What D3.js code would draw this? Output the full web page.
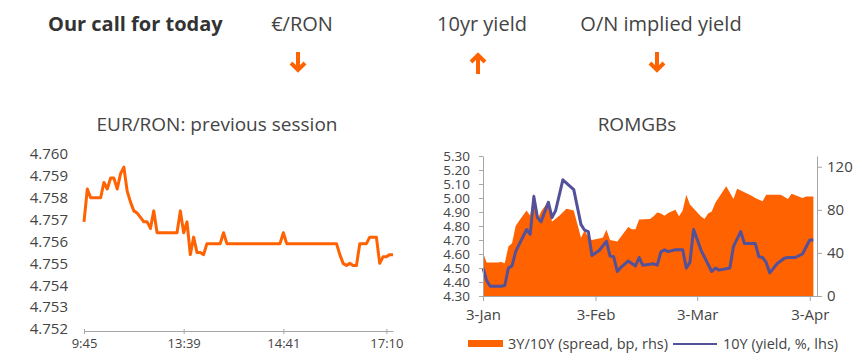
<!DOCTYPE html>
<html>
<head>
<meta charset="utf-8">
<script src="https://cdn.jsdelivr.net/npm/d3@7"></script>
<style>
  html, body { margin: 0; padding: 0; background: #fff; }
  svg { display: block; font-family: "Open Sans", sans-serif; }
</style>
</head>
<body>
<svg id="chart" width="859" height="354"></svg>
<script>
// ---- Daily call ----
const callLabels = ["€/RON", "10yr yield", "O/N implied yield"];
const callDirections = ["down", "up", "down"];

// ---- EUR/RON intraday fixings, previous session ----
const eurronValues = [
  4.7569, 4.7584, 4.7580, 4.7580, 4.7580, 4.7580, 4.7587, 4.7584, 4.7589, 4.7589,
  4.7584, 4.7591, 4.7594, 4.7583, 4.7578, 4.7574, 4.7573, 4.7571, 4.7569, 4.7569,
  4.7566, 4.7574, 4.7564, 4.7564, 4.7564, 4.7564, 4.7564, 4.7564, 4.7564, 4.7574,
  4.7564, 4.7569, 4.7554, 4.7562, 4.7555, 4.7555, 4.7554, 4.7559, 4.7559, 4.7559,
  4.7559, 4.7559, 4.7564, 4.7559, 4.7559, 4.7559, 4.7559, 4.7559, 4.7559, 4.7559,
  4.7559, 4.7559, 4.7559, 4.7559, 4.7559, 4.7559, 4.7559, 4.7559, 4.7559, 4.7559,
  4.7564, 4.7559, 4.7559, 4.7559, 4.7559, 4.7559, 4.7559, 4.7559, 4.7559, 4.7559,
  4.7559, 4.7559, 4.7559, 4.7559, 4.7559, 4.7559, 4.7559, 4.7554, 4.7550, 4.7549,
  4.7550, 4.7549, 4.7549, 4.7559, 4.7559, 4.7559, 4.7562, 4.7562, 4.7562, 4.7550,
  4.7553, 4.7553, 4.7554, 4.7554
];
const eurronTickIndex = [0, 30, 60, 91];
const eurronTickLabels = ["9:45", "13:39", "14:41", "17:10"];
const eurronYTicks = [4.752, 4.753, 4.754, 4.755, 4.756, 4.757, 4.758, 4.759, 4.760];

// ---- ROMGBs: 3Y/10Y spread (bp, rhs) ----
const spreadDates = [
  "2022-01-03","2022-01-04","2022-01-07","2022-01-08","2022-01-09","2022-01-10","2022-01-11",
  "2022-01-12","2022-01-13","2022-01-15","2022-01-16","2022-01-17","2022-01-18","2022-01-19",
  "2022-01-21","2022-01-22","2022-01-24","2022-01-26","2022-01-28","2022-01-30","2022-01-31",
  "2022-02-01","2022-02-02","2022-02-05","2022-02-06","2022-02-07","2022-02-09","2022-02-12",
  "2022-02-13","2022-02-14","2022-02-15","2022-02-18","2022-02-19","2022-02-20","2022-02-21",
  "2022-02-22","2022-02-23","2022-02-25","2022-02-26","2022-02-27","2022-02-28","2022-03-01",
  "2022-03-04","2022-03-05","2022-03-06","2022-03-07","2022-03-08","2022-03-11","2022-03-13",
  "2022-03-14","2022-03-18","2022-03-19","2022-03-21","2022-03-22","2022-03-26","2022-03-28",
  "2022-03-29","2022-04-01","2022-04-02","2022-04-04"
];
const spreadValues = [
  40, 31, 31, 31.5, 30.5, 46, 49,
  65, 70, 79.5, 74.5, 95.5, 71, 78.5,
  88, 69, 74.5, 81, 79.5, 54, 61,
  54.5, 52, 54, 61.5, 52, 50.5, 64,
  62, 62, 71, 71.5, 74, 77.5, 76.5,
  74.5, 77, 80, 74, 79.5, 94, 85,
  74, 71.5, 76.5, 78.5, 86.5, 102, 90,
  99.5, 93, 91, 88, 94, 94, 90,
  95, 91, 92.5, 92.5
];

// ---- ROMGBs: 10Y yield (%, lhs) ----
const yieldDates = [
  "2022-01-03","2022-01-04","2022-01-05","2022-01-08","2022-01-09","2022-01-10","2022-01-11",
  "2022-01-12","2022-01-13","2022-01-15","2022-01-16","2022-01-17","2022-01-18","2022-01-19",
  "2022-01-21","2022-01-22","2022-01-23","2022-01-25","2022-01-28","2022-01-30","2022-01-31",
  "2022-02-01","2022-02-02","2022-02-04","2022-02-06","2022-02-07","2022-02-08","2022-02-09",
  "2022-02-10","2022-02-12","2022-02-14","2022-02-15","2022-02-16","2022-02-19","2022-02-20",
  "2022-02-21","2022-02-22","2022-02-23","2022-02-25","2022-02-27","2022-02-28","2022-03-01",
  "2022-03-02","2022-03-03","2022-03-04","2022-03-07","2022-03-08","2022-03-09","2022-03-12",
  "2022-03-13","2022-03-15","2022-03-16","2022-03-19","2022-03-20","2022-03-21","2022-03-22",
  "2022-03-23","2022-03-25","2022-03-27","2022-03-28","2022-03-30","2022-04-01","2022-04-03",
  "2022-04-04"
];
const yieldValues = [
  4.50, 4.41, 4.37, 4.37, 4.375, 4.50, 4.515,
  4.617, 4.67, 4.775, 4.74, 5.01, 4.86, 4.83,
  4.97, 4.86, 4.91, 5.13, 5.06, 4.81, 4.77,
  4.76, 4.59, 4.625, 4.69, 4.585, 4.58, 4.475,
  4.505, 4.55, 4.515, 4.575, 4.52, 4.53, 4.52,
  4.615, 4.63, 4.617, 4.63, 4.63, 4.50, 4.54,
  4.775, 4.705, 4.63, 4.475, 4.50, 4.485, 4.50,
  4.655, 4.76, 4.675, 4.675, 4.58, 4.575, 4.54,
  4.465, 4.53, 4.57, 4.575, 4.575, 4.60, 4.70,
  4.70
];
const romgbMonthTicks = ["2022-01-03", "2022-02-03", "2022-03-03", "2022-04-03"];
const yieldTicks = [4.30, 4.40, 4.50, 4.60, 4.70, 4.80, 4.90, 5.00, 5.10, 5.20, 5.30];
const spreadTicks = [0, 40, 80, 120];
const legendLabels = ["3Y/10Y (spread, bp, rhs)", "10Y (yield, %, lhs)"];

const ORANGE = "#ff6200";
const INDIGO = "#525199";
const TEXT = "#444";
const AXIS = "#a6a6a6";

const svg = d3.select("#chart");
const parse = d3.timeParse("%Y-%m-%d");

// ---- Header: today's call ----
svg.append("text")
  .attr("x", 48).attr("y", 31)
  .attr("font-size", 20).attr("font-weight", 700).attr("fill", "#333")
  .text("Our call for today");

const callCenters = [302, 482, 661];
const head = svg.append("g").selectAll("g")
  .data(callLabels.map((l, i) => ({ label: l, dir: callDirections[i], cx: callCenters[i] })))
  .join("g");
head.append("text")
  .attr("x", d => d.cx).attr("y", 31)
  .attr("text-anchor", "middle").attr("font-size", 20).attr("fill", TEXT)
  .text(d => d.label);
head.append("path")
  .attr("transform", d => `translate(${d.cx - 4},${d.dir === "up" ? 64 : 61})`)
  .attr("d", d => d.dir === "up"
    ? "M0,10 L0,-9 M-7,-2 L0,-9 L7,-2"
    : "M0,-9 L0,9 M-7,2 L0,9 L7,2")
  .attr("fill", "none").attr("stroke", ORANGE).attr("stroke-width", 4)
  .attr("stroke-linejoin", "miter").attr("stroke-linecap", "butt");

// ---- Left panel: EUR/RON previous session ----
svg.append("text")
  .attr("x", 217).attr("y", 131).attr("text-anchor", "middle")
  .attr("font-size", 19).attr("fill", TEXT)
  .text("EUR/RON: previous session");

const xL = d3.scaleLinear().domain([0, eurronValues.length - 1]).range([84, 393]);
const yL = d3.scaleLinear().domain([4.752, 4.760]).range([329, 154]);

const axL = svg.append("g").attr("transform", "translate(71,0)")
  .call(d3.axisLeft(yL).tickValues(eurronYTicks).tickFormat(d3.format(".3f")).tickSize(0).tickPadding(3));
axL.select(".domain").remove();
axL.selectAll("text").attr("font-size", 15).attr("fill", TEXT).attr("font-family", "Open Sans");

const axLB = svg.append("g").attr("transform", "translate(0,331)")
  .call(d3.axisBottom(xL).tickValues(eurronTickIndex)
    .tickFormat((d, i) => eurronTickLabels[i]).tickSize(5).tickSizeOuter(0).tickPadding(3));
axLB.select(".domain").attr("stroke", AXIS);
axLB.selectAll(".tick line").attr("stroke", AXIS).attr("transform", "translate(0,-2)");
axLB.selectAll("text").attr("font-size", 13).attr("fill", TEXT).attr("font-family", "Open Sans");

svg.append("path")
  .datum(eurronValues)
  .attr("fill", "none").attr("stroke", ORANGE).attr("stroke-width", 3)
  .attr("stroke-linejoin", "round")
  .attr("d", d3.line().x((d, i) => xL(i)).y(d => yL(d)));

// ---- Right panel: ROMGBs ----
svg.append("text")
  .attr("x", 637).attr("y", 131).attr("text-anchor", "middle")
  .attr("font-size", 19).attr("fill", TEXT)
  .text("ROMGBs");

const xR = d3.scaleTime().domain([parse("2022-01-03"), parse("2022-04-05")]).range([483, 817]);
const yYield = d3.scaleLinear().domain([4.30, 5.30]).range([296, 156]);
const ySpread = d3.scaleLinear().domain([0, 130]).range([296, 156]);

const spread = spreadDates.map((d, i) => ({ date: parse(d), v: spreadValues[i] }));
const yld = yieldDates.map((d, i) => ({ date: parse(d), v: yieldValues[i] }));

svg.append("path")
  .datum(spread)
  .attr("fill", ORANGE)
  .attr("d", d3.area().x(d => xR(d.date)).y0(ySpread(0)).y1(d => ySpread(d.v)));

svg.append("path")
  .datum(yld)
  .attr("fill", "none").attr("stroke", INDIGO).attr("stroke-width", 3)
  .attr("stroke-linejoin", "round")
  .attr("d", d3.line().x(d => xR(d.date)).y(d => yYield(d.v)));

const axYL = svg.append("g").attr("transform", "translate(483,0)")
  .call(d3.axisLeft(yYield).tickValues(yieldTicks).tickFormat(d3.format(".2f")).tickSize(4).tickSizeOuter(0).tickPadding(9));
const axYR = svg.append("g").attr("transform", "translate(817,0)")
  .call(d3.axisRight(ySpread).tickValues(spreadTicks).tickSize(5).tickSizeOuter(0).tickPadding(5));
const axX = svg.append("g").attr("transform", "translate(0,296)")
  .call(d3.axisBottom(xR).tickValues(romgbMonthTicks.map(parse))
    .tickFormat(d3.timeFormat("%-d-%b")).tickSize(5).tickSizeOuter(0).tickPadding(8));
[axYL, axYR, axX].forEach(a => {
  a.select(".domain").attr("stroke", AXIS);
  a.selectAll(".tick line").attr("stroke", AXIS);
  a.selectAll("text").attr("font-size", 15).attr("fill", TEXT).attr("font-family", "Open Sans");
});
// the yield scale is densely labelled; a slightly smaller size keeps rows apart
axYL.selectAll("text").attr("font-size", 13.5);

// ---- Legend ----
const leg = svg.append("g");
leg.append("rect").attr("x", 468).attr("y", 340).attr("width", 35).attr("height", 7).attr("fill", ORANGE);
leg.append("text").attr("x", 508).attr("y", 349).attr("font-size", 14.5).attr("fill", TEXT).text(legendLabels[0]);
leg.append("line").attr("x1", 673).attr("x2", 717).attr("y1", 344).attr("y2", 344)
  .attr("stroke", INDIGO).attr("stroke-width", 2);
leg.append("text").attr("x", 723).attr("y", 349).attr("font-size", 14.5).attr("fill", TEXT).text(legendLabels[1]);
</script>
</body>
</html>
